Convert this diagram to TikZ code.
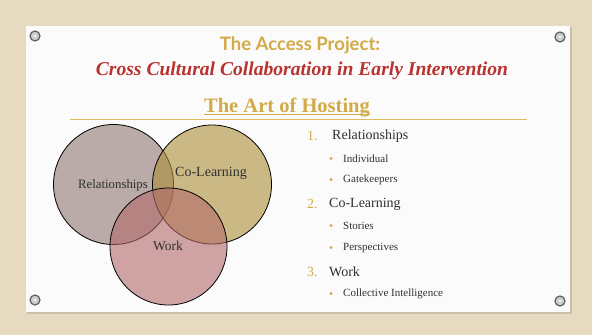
\documentclass[tikz,border=0pt]{standalone}
\usepackage{fontspec}
\setmainfont{Liberation Serif}
\newfontfamily\headsans{Lato}
\definecolor{canvas}{HTML}{E6DAC0}
\definecolor{panel}{HTML}{FBFBFB}
\definecolor{gold}{HTML}{D2AA48}
\definecolor{goldline}{HTML}{E0BC5C}
\definecolor{crimson}{HTML}{B8322F}
\definecolor{bodytext}{HTML}{303030}
\definecolor{relfill}{HTML}{8F7571}
\definecolor{colfill}{HTML}{AC8E37}
\definecolor{workfill}{HTML}{B26969}
\tikzset{
  grommet/.style={circle, minimum size=10pt, inner sep=0pt, draw=gray!75!black, line width=1.2pt, fill=gray!40},
  venn/.style={circle, draw=black, line width=0.8pt, inner sep=0pt, fill opacity=0.6, text opacity=1},
  vennlabel/.style={font=\fontsize{12.8}{14}\selectfont, text=bodytext, inner sep=0pt},
  numlabel/.style={font=\fontsize{14}{16}\selectfont, text=gold, anchor=west, inner sep=0pt},
  mainitem/.style={font=\fontsize{14}{16}\selectfont, text=bodytext, anchor=west, inner sep=0pt},
  subitem/.style={font=\fontsize{11}{13}\selectfont, text=bodytext, anchor=west, inner sep=0pt},
  bulletdot/.style={circle, fill=gold, minimum size=3.4pt, inner sep=0pt}
}
\begin{document}
\begin{tikzpicture}[x=1pt, y=-1pt]
\useasboundingbox (0,0) rectangle (592,335);
% canvas backdrop and pinned sheet
\fill[canvas] (0,0) rectangle (592,335);
\fill[black, opacity=0.12] (27,27) rectangle (572,314);
\node[fill=panel, minimum width=544pt, minimum height=286pt, inner sep=0pt, anchor=north west] (sheet) at (26,26) {};
% grommets in the corners
\foreach \gx/\gy/\gn in {35/36/tl, 560/37/tr, 35/300/bl, 560/301/br}{
  \node[grommet] (grom-\gn) at (\gx,\gy) {};
  \node[circle, fill=gray!15, minimum size=3.5pt, inner sep=0pt] (hole-\gn) at (\gx,\gy) {};
}
% headings
\node[font=\headsans\bfseries\fontsize{18.5}{20}\selectfont, text=gold, inner sep=0pt] (title) at (300,45) {The Access Project:};
\node[font=\itshape\bfseries\fontsize{19.6}{22}\selectfont, text=crimson, inner sep=0pt] (subtitle) at (302,71) {Cross Cultural Collaboration in Early Intervention};
\node[font=\bfseries\fontsize{20.5}{23}\selectfont, text=gold, inner sep=0pt, anchor=base] (hosting) at (287,112) {The Art of Hosting};
\draw[gold, line width=1.1pt] ([yshift=-2.6pt]hosting.base west) -- ([yshift=-2.6pt]hosting.base east);
\coordinate (ruleL) at (70,119.5);
\coordinate (ruleR) at (527,119.5);
\draw[goldline, line width=1.1pt] (ruleL) -- (ruleR);
% venn diagram
\node[venn, fill=relfill, minimum size=120pt] (rel) at (113.5,184.5) {};
\node[venn, fill=colfill, minimum size=119pt] (col) at (212,184.5) {};
\node[venn, fill=workfill, minimum size=117pt] (work) at (168.5,246.5) {};
\node[vennlabel] (rel-lbl) at (113,185) {Relationships};
\node[vennlabel, font=\fontsize{14}{16}\selectfont] (col-lbl) at (211,173) {Co-Learning};
\node[vennlabel, font=\fontsize{13.5}{15}\selectfont] (work-lbl) at (168,246) {Work};
% numbered list
\node[numlabel] (n1) at (307,136) {1.};
\node[mainitem] (i1) at (332,136) {Relationships};
\node[bulletdot] (b11) at (331,158.5) {};
\node[subitem] (s11) at (343,159) {Individual};
\node[bulletdot] (b12) at (331,179.5) {};
\node[subitem] (s12) at (343,180) {Gatekeepers};
\node[numlabel] (n2) at (307,204) {2.};
\node[mainitem] (i2) at (329,204) {Co-Learning};
\node[bulletdot] (b21) at (331,225.5) {};
\node[subitem] (s21) at (343,226) {Stories};
\node[bulletdot] (b22) at (331,247.5) {};
\node[subitem] (s22) at (343,248) {Perspectives};
\node[numlabel] (n3) at (307,272) {3.};
\node[mainitem] (i3) at (329,272) {Work};
\node[bulletdot] (b31) at (331,293.5) {};
\node[subitem] (s31) at (343,294) {Collective Intelligence};
\end{tikzpicture}
\end{document}
